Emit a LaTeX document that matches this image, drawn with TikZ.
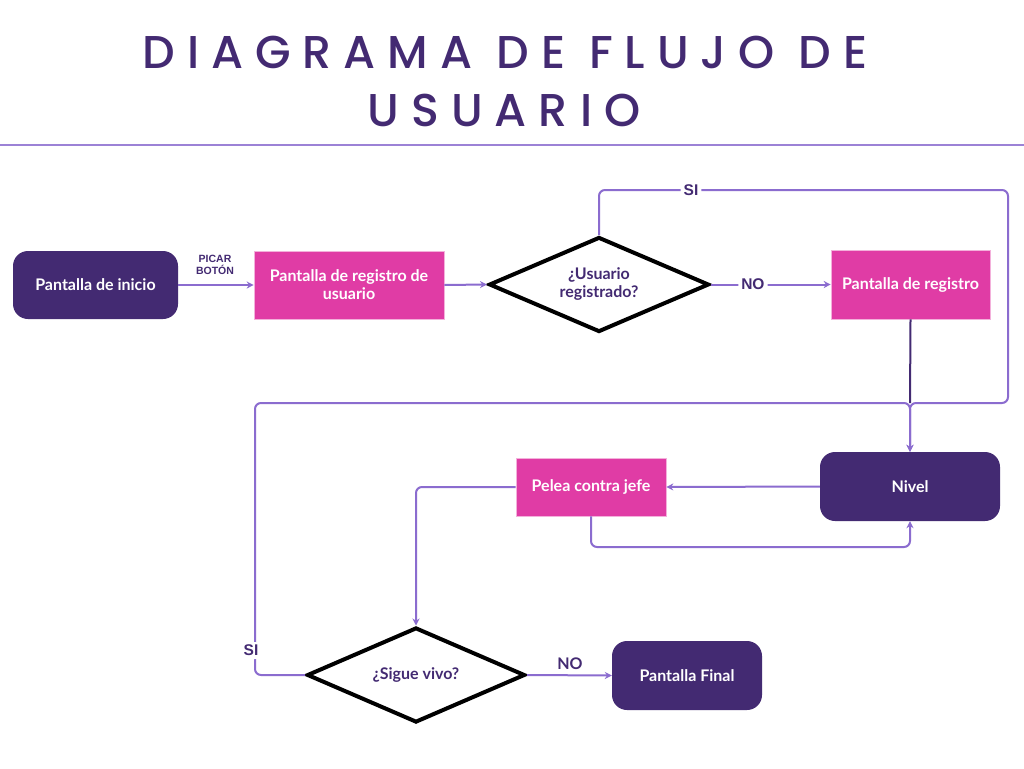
\documentclass[tikz,border=0pt]{standalone}
\usepackage{fontspec}
\setmainfont{Lato}
\newfontfamily\titlefont[LetterSpace=26]{Poppins Medium}
\newfontfamily\lblfont{Liberation Sans}
\usetikzlibrary{shapes.geometric,arrows.meta}
\definecolor{dpurple}{HTML}{432A72}
\definecolor{pink}{HTML}{E03CA5}
\definecolor{lav}{HTML}{8B6CCF}
\tikzset{
  darkbox/.style={fill=dpurple, rounded corners=15pt, text=white, font=\bfseries\fontsize{16}{18}\selectfont, align=center, inner sep=0pt},
  pinkbox/.style={fill=pink, draw=pink!40, line width=0.6pt, text=white, font=\bfseries\fontsize{16}{18}\selectfont, align=center, inner sep=0pt},
  decision/.style={diamond, draw=black, line width=4pt, text=dpurple, font=\bfseries\fontsize{16}{18}\selectfont, align=center, inner sep=0pt},
  conn/.style={draw=lav, line width=2pt, rounded corners=6pt, -{Stealth[length=7pt,width=7pt]}},
  lbl/.style={fill=white, text=dpurple, font=\lblfont\bfseries\fontsize{15.5}{17}\selectfont, inner sep=3pt},
  small/.style={text=dpurple, font=\lblfont\bfseries\fontsize{10.5}{12.5}\selectfont, align=center},
}
\begin{document}
\begin{tikzpicture}[x=1pt,y=-1pt]
\useasboundingbox[fill=white] (0,0) rectangle (1024,768);
% title
\node[text=dpurple, font=\titlefont\fontsize{46}{58}\selectfont] (t1) at (505,52) {DIAGRAMA DE FLUJO DE};
\node[text=dpurple, font=\titlefont\fontsize{46}{58}\selectfont] (t2) at (504,110) {USUARIO};
\coordinate (la) at (0,145);
\coordinate (lb) at (1024,145);
\draw[draw=lav!85, line width=2pt] (la) -- (lb);

% nodes
\node[darkbox, minimum width=165pt, minimum height=68pt] (inicio) at (95.5,285) {Pantalla de inicio};
\node[pinkbox, minimum width=190pt, minimum height=68pt] (reg) at (349,285) {Pantalla de registro de\\usuario};
\node[decision, minimum width=220pt, minimum height=95pt, aspect=2.3] (d1) at (599,284.5) {¿Usuario\\registrado?};
\node[pinkbox, minimum width=159pt, minimum height=69pt] (preg) at (910.5,284.5) {Pantalla de registro};
\node[darkbox, minimum width=180pt, minimum height=69pt] (nivel) at (910,486.5) {Nivel};
\node[pinkbox, minimum width=150pt, minimum height=58pt] (pelea) at (591,487) {Pelea contra jefe};
\node[decision, minimum width=218pt, minimum height=95pt, aspect=2.3] (d2) at (416,675) {¿Sigue vivo?};
\node[darkbox, minimum width=150pt, minimum height=69pt] (final) at (687,675.5) {Pantalla Final};

% labels
\node[small] (picar) at (215,265) {PICAR\\[-1pt]BOTÓN};

% connectors
\draw[conn] (inicio.east) -- (reg.west);
\draw[conn] (reg.east) -- (d1.west);
\draw[conn] (d1.east) -- node[lbl, pos=0.35] {NO} (preg.west);
\draw[conn] (d1.north) -- (599,190) -- node[lbl, pos=0.225] {SI} (1008,190) -- (1008,403) -- (910,403) -- (nivel.north);
\draw[draw=dpurple, line width=2pt] (preg.south) -- (910,403);
\draw[conn] (d2.west) -- (255,675) -- node[lbl, pos=0.09, xshift=-4pt] {SI} (255,403) -- (910,403) -- (nivel.north);
\draw[conn] (nivel.west) -- (pelea.east);
\draw[conn] (pelea.south) -- (591,547) -- (910,547) -- (nivel.south);
\draw[conn] (pelea.west) -- (416,487) -- (d2.north);
\draw[conn] (d2.east) -- (final.west);
\node[text=dpurple, font=\bfseries\fontsize{16}{18}\selectfont] (no2) at (570,664) {NO};
\end{tikzpicture}
\end{document}
